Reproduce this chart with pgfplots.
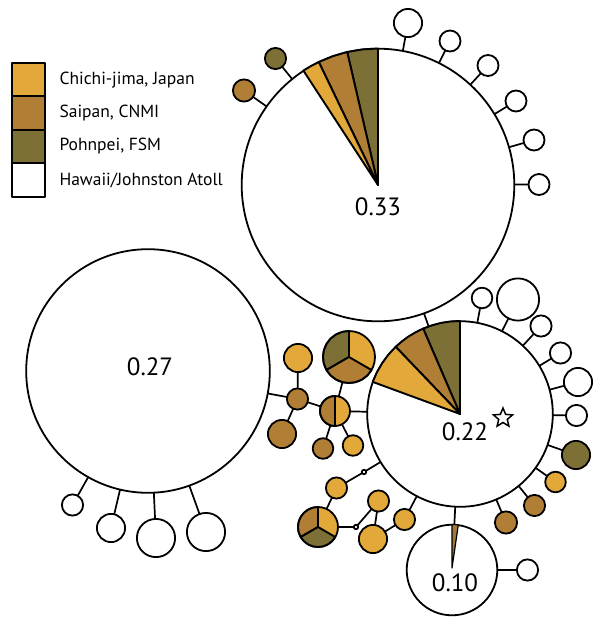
\documentclass[border=0pt]{standalone}
\usepackage{pgfplots}
\usepackage{pgfplotstable}
\pgfplotsset{compat=1.18}
\usepackage{fontspec}
\setmainfont{PT Sans}
\definecolor{cj}{RGB}{226,168,58}
\definecolor{sp}{RGB}{176,126,52}
\definecolor{pn}{RGB}{124,112,54}

\pgfdeclareplotmark{ostar}{%
  \pgfpathmoveto{\pgfpointpolar{90}{\pgfplotmarksize}}%
  \pgfpathlineto{\pgfpointpolar{126}{0.45\pgfplotmarksize}}%
  \pgfpathlineto{\pgfpointpolar{162}{\pgfplotmarksize}}%
  \pgfpathlineto{\pgfpointpolar{198}{0.45\pgfplotmarksize}}%
  \pgfpathlineto{\pgfpointpolar{234}{\pgfplotmarksize}}%
  \pgfpathlineto{\pgfpointpolar{270}{0.45\pgfplotmarksize}}%
  \pgfpathlineto{\pgfpointpolar{306}{\pgfplotmarksize}}%
  \pgfpathlineto{\pgfpointpolar{342}{0.45\pgfplotmarksize}}%
  \pgfpathlineto{\pgfpointpolar{18}{\pgfplotmarksize}}%
  \pgfpathlineto{\pgfpointpolar{54}{0.45\pgfplotmarksize}}%
  \pgfpathclose
  \pgfusepathqfillstroke}

\pgfplotsset{
  hnode/.style={scatter, only marks, mark=*,
    scatter/use mapped color={draw=black, fill=#1},
    visualization depends on={\thisrow{r}\as\nodeR},
    scatter/@pre marker code/.append style={/tikz/mark size=\nodeR},
    mark options={line width=1.8pt}},
  wedge/.style={fill=#1, draw=black, line width=1.9pt, line join=round, no marks},
  edge/.style={black, line width=1.7pt, no marks}
}
\newcommand{\edge}[4]{\addplot[edge] coordinates {(#1,#2) (#3,#4)};}

% nodes: x y (pixel coords, y down) r (radius)
\pgfplotstableread{
x y r
378 185 136.3
148 371 121.8
460 414 92.8
452 570 45.3
408 23 14.1
450 41 10.5
488 65.5 10.5
516 101 10.5
534 140 10.5
539 184.5 10.5
72.5 505 10.6
111 528 14.1
156 538 19.1
206 532 19.1
482 298 10.3
518 299.5 21.1
541 326 10.6
560.5 353 10.6
578 382 14.1
576.5 415.5 10.6
527.5 570 10.6
364 472 2.2
356 527 2.2
}\whitenodes
\pgfplotstableread{
x y r
555.5 482 10.3
404.5 519.5 10.6
336.5 488 10.6
378.5 501 10.6
373 539 14.1
298 358 14.1
353 445.5 10.3
349 357 26
318 527 20
335 411 15
}\cjnodes
\pgfplotstableread{
x y r
244 90.5 11.1
534.5 505.5 10.6
506 522.5 11.1
297.5 399 10.6
282 434 14.1
323 448.5 10.3
}\spnodes
\pgfplotstableread{
x y r
275.5 58.5 10.6
576 455 14.1
}\pnnodes

\begin{document}
\begin{tikzpicture}
\begin{axis}[width=602pt, height=625pt, scale only axis,
  xmin=0, xmax=602, ymin=0, ymax=625, y dir=reverse,
  hide axis, clip=false, clip mode=individual]
% frame of the picture (invisible)
\addplot[draw=none, no marks] coordinates {(0,0) (602,625)};
% edges
\edge{378}{185}{244}{90.5}
\edge{378}{185}{275.5}{58.5}
\edge{378}{185}{408}{23}
\edge{378}{185}{450}{41}
\edge{378}{185}{488}{65.5}
\edge{378}{185}{516}{101}
\edge{378}{185}{534}{140}
\edge{378}{185}{539}{184.5}
\edge{378}{185}{460}{414}
\edge{148}{371}{72.5}{505}
\edge{148}{371}{111}{528}
\edge{148}{371}{156}{538}
\edge{148}{371}{206}{532}
\edge{148}{371}{297.5}{399}
\edge{297.5}{399}{298}{358}
\edge{297.5}{399}{282}{434}
\edge{297.5}{399}{335}{411}
\edge{335}{411}{349}{357}
\edge{335}{411}{323}{448.5}
\edge{335}{411}{353}{445.5}
\edge{335}{411}{460}{414}
\edge{460}{414}{482}{298}
\edge{460}{414}{518}{299.5}
\edge{460}{414}{541}{326}
\edge{460}{414}{560.5}{353}
\edge{460}{414}{578}{382}
\edge{460}{414}{576.5}{415.5}
\edge{460}{414}{576}{455}
\edge{460}{414}{555.5}{482}
\edge{460}{414}{534.5}{505.5}
\edge{460}{414}{506}{522.5}
\edge{460}{414}{404.5}{519.5}
\edge{460}{414}{452}{570}
\edge{460}{414}{364}{472}
\edge{452}{570}{527.5}{570}
\edge{364}{472}{336.5}{488}
\edge{336.5}{488}{318}{527}
\edge{318}{527}{356}{527}
\edge{356}{527}{378.5}{501}
\edge{378.5}{501}{373}{539}
\edge{373}{539}{404.5}{519.5}
% nodes
\addplot[hnode=white] table {\whitenodes};
\addplot[hnode=cj] table {\cjnodes};
\addplot[hnode=sp] table {\spnodes};
\addplot[hnode=pn] table {\pnnodes};
% pie wedges, 0.33
\addplot[wedge=pn] coordinates {(378,185) (378,48.5) (362.5,49.4) (347.2,52) } -- cycle;
\addplot[wedge=sp] coordinates {(378,185) (347.2,52) (332.7,56.2) (318.8,62) } -- cycle;
\addplot[wedge=cj] coordinates {(378,185) (318.8,62) (311.0,66) (303.4,70.6) } -- cycle;
% 0.22
\addplot[wedge=pn] coordinates {(460,414) (460,321) (450.3,321.5) (440.7,323.0) (431.9,325.4) (423.2,328.6)} -- cycle;
\addplot[wedge=sp] coordinates {(460,414) (423.2,328.6) (415.8,332.2) (408.7,336.4) (402.0,341.3) (395.7,346.8)} -- cycle;
\addplot[wedge=cj] coordinates {(460,414) (395.7,346.8) (388.5,354.5) (382.3,363.0) (377.0,372.1) (372.7,381.9)} -- cycle;
% 0.10
\addplot[wedge=sp, fill=sp!70!pn, line width=1.2pt] coordinates {(452,568) (452,524.5) (455.2,524.6) (458.3,524.9)} -- cycle;
% three-part node K
\addplot[wedge=pn] coordinates {(349,357) (349,331) (342.3,331.9) (336,334.5) (330.6,338.6) (326.5,344) (323.9,350.3) (323,357) (323.9,363.7) (326.5,370)} -- cycle;
\addplot[wedge=sp] coordinates {(349,357) (326.5,370) (330.6,375.4) (336,379.5) (342.3,382.1) (349,383) (355.7,382.1) (362,379.5) (367.4,375.4) (371.5,370)} -- cycle;
% three-part node L
\addplot[wedge=sp] coordinates {(318,527) (318,507) (312.8,507.7) (308,509.7) (303.9,512.9) (300.7,517) (298.7,521.8) (298,527) (298.7,532.2) (300.7,537)} -- cycle;
\addplot[wedge=pn] coordinates {(318,527) (300.7,537) (303.9,541.1) (308,544.3) (312.8,546.3) (318,547) (323.2,546.3) (328,544.3) (332.1,541.1) (335.3,537)} -- cycle;
% half node H
\addplot[wedge=sp] coordinates {(335,396) (331.1,396.5) (327.5,398) (324.4,400.4) (322,403.5) (320.5,407.1) (320,411) (320.5,414.9) (322,418.5) (324.4,421.6) (327.5,424) (331.1,425.5) (335,426)} -- cycle;
% star
\addplot[only marks, mark=ostar, mark size=10, mark options={fill=white, draw=black, line width=1.5pt}] coordinates {(503,418)};
% legend squares
\addplot[wedge=cj] coordinates {(12,63) (45,63) (45,96) (12,96)} -- cycle;
\addplot[wedge=sp] coordinates {(12,96) (45,96) (45,130) (12,130)} -- cycle;
\addplot[wedge=pn] coordinates {(12,130) (45,130) (45,163) (12,163)} -- cycle;
\addplot[wedge=white] coordinates {(12,163) (45,163) (45,197) (12,197)} -- cycle;
\node[anchor=west, font=\fontsize{17.5}{17.5}\selectfont] at (axis cs:56,80) {Chichi-jima, Japan};
\node[anchor=west, font=\fontsize{17.5}{17.5}\selectfont] at (axis cs:56,113) {Saipan, CNMI};
\node[anchor=west, font=\fontsize{17.5}{17.5}\selectfont] at (axis cs:56,146) {Pohnpei, FSM};
\node[anchor=west, font=\fontsize{17.5}{17.5}\selectfont] at (axis cs:56,180) {Hawaii/Johnston Atoll};
% frequencies
\node[font=\fontsize{25}{25}\selectfont] at (axis cs:378,207) {0.33};
\node[font=\fontsize{25}{25}\selectfont] at (axis cs:150,367) {0.27};
\node[font=\fontsize{25}{25}\selectfont] at (axis cs:465,432) {0.22};
\node[font=\fontsize{25}{25}\selectfont] at (axis cs:455,583) {0.10};
\end{axis}
\end{tikzpicture}
\end{document}
